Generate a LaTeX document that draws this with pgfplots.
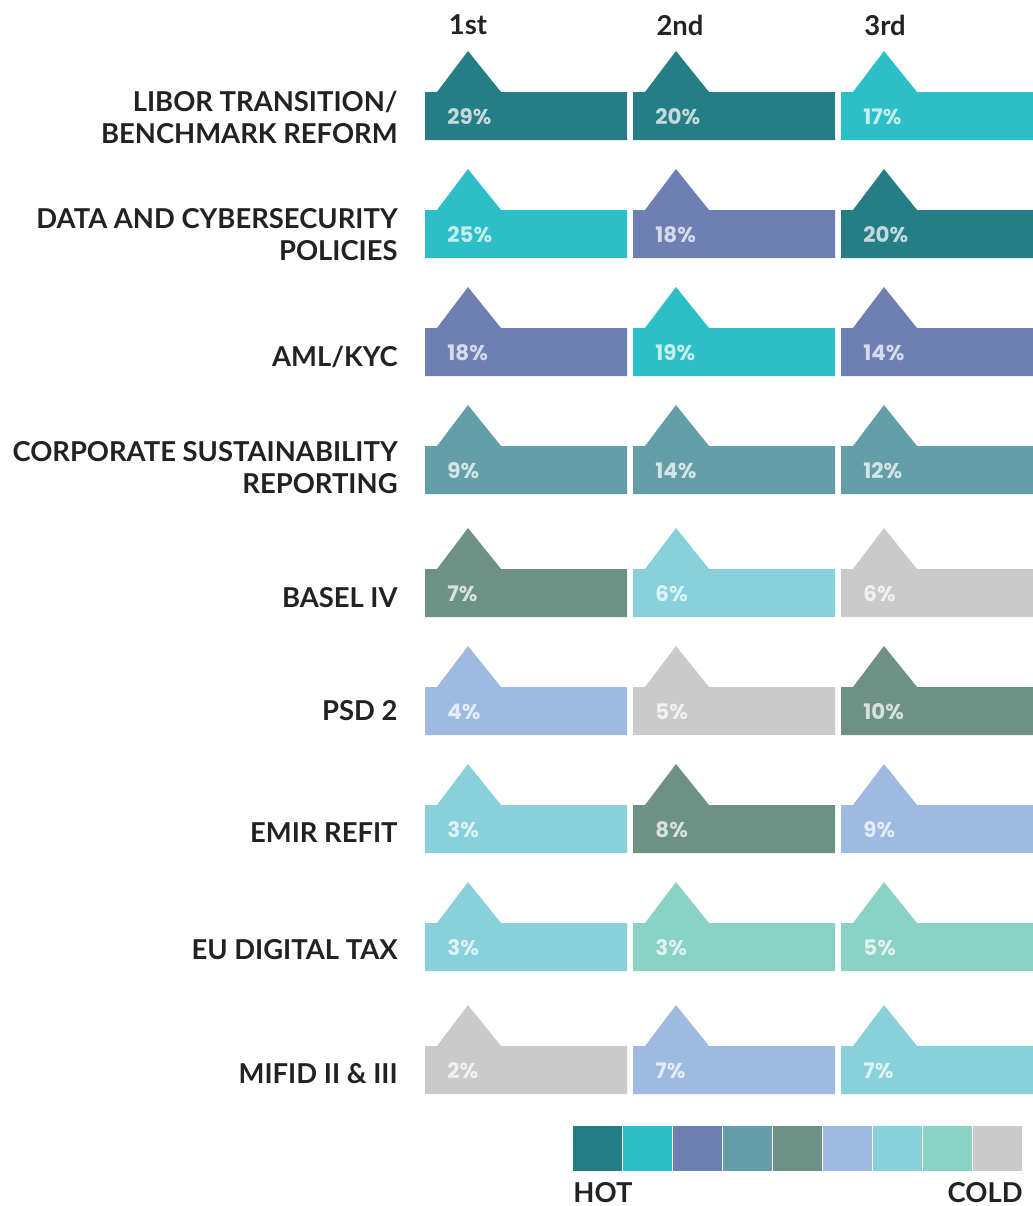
\documentclass[border=0pt]{standalone}
\usepackage{pgfplots}
\pgfplotsset{compat=1.18}
\usepackage{fontspec}
\setmainfont{Lato}
\newfontfamily\pctfont{Poppins}
\definecolor{c1}{HTML}{257D86}
\definecolor{c2}{HTML}{2DBFC8}
\definecolor{c3}{HTML}{6E7FB4}
\definecolor{c4}{HTML}{649FA9}
\definecolor{c5}{HTML}{6E9186}
\definecolor{c6}{HTML}{9EBAE0}
\definecolor{c7}{HTML}{88D1DA}
\definecolor{c8}{HTML}{8AD1C6}
\definecolor{c9}{HTML}{CBCACB}
\definecolor{lab}{HTML}{222222}
\tikzset{
  pct/.style={font=\pctfont\bfseries\fontsize{10.7}{12}\selectfont, text=white, text opacity=0.72, inner sep=0pt, anchor=west},
  lab/.style={font=\bfseries\fontsize{13.7}{16}\selectfont, text=lab, inner sep=0pt, anchor=east, align=right},
  hdr/.style={font=\bfseries\fontsize{13.7}{16}\selectfont, text=lab, inner sep=0pt},
}
% #1 column index, #2 top of rectangle (px), #3 value (%), #4 colour
\newcommand\cell[4]{%
  \pgfmathsetmacro\xL{425+208*#1}%
  \pgfmathsetmacro\xR{min(\xL+202,1033)}%
  \pgfmathsetmacro\yB{#2+48}%
  \pgfmathsetmacro\ta{\xL+12}%
  \pgfmathsetmacro\tp{\xL+43}%
  \pgfmathsetmacro\tb{\xL+76}%
  \pgfmathsetmacro\yP{#2-41}%
  \pgfmathsetmacro\xT{\xL+22}%
  \pgfmathsetmacro\yT{#2+25}%
  \edef\temp{\noexpand\addplot[fill=#4, draw=none] coordinates {(\xL,\yB) (\xL,#2) (\ta,#2) (\tp,\yP) (\tb,#2) (\xR,#2) (\xR,\yB)};
    \noexpand\node[pct] at (axis cs:\xT,\yT) {#3\noexpand\%};}%
  \temp
}
% legend square: #1 index 0..8, #2 colour
\newcommand\legsq[2]{%
  \pgfmathsetmacro\xa{573+50*#1}%
  \pgfmathsetmacro\xb{\xa+49}%
  \edef\temp{\noexpand\addplot[fill=#2, draw=none] coordinates {(\xa,1126) (\xb,1126) (\xb,1171) (\xa,1171)};}%
  \temp
}
\begin{document}
\begin{tikzpicture}
\begin{axis}[hide axis, scale only axis, width=516.5pt, height=603pt,
  xmin=0, xmax=1033, ymin=0, ymax=1206, y dir=reverse, clip=false]
% headers
\node[hdr] at (axis cs:468,25) {1st};
\node[hdr] at (axis cs:680,25) {2nd};
\node[hdr] at (axis cs:885,25) {3rd};
% row 1
\cell{0}{92}{29}{c1}\cell{1}{92}{20}{c1}\cell{2}{92}{17}{c2}
\node[lab] at (axis cs:398,117) {LIBOR TRANSITION/\\BENCHMARK REFORM};
% row 2
\cell{0}{210}{25}{c2}\cell{1}{210}{18}{c3}\cell{2}{210}{20}{c1}
\node[lab] at (axis cs:398,235) {DATA AND CYBERSECURITY\\POLICIES};
% row 3
\cell{0}{328}{18}{c3}\cell{1}{328}{19}{c2}\cell{2}{328}{14}{c3}
\node[lab] at (axis cs:398,357) {AML/KYC};
% row 4
\cell{0}{446}{9}{c4}\cell{1}{446}{14}{c4}\cell{2}{446}{12}{c4}
\node[lab] at (axis cs:398,468) {CORPORATE SUSTAINABILITY\\REPORTING};
% row 5
\cell{0}{569}{7}{c5}\cell{1}{569}{6}{c7}\cell{2}{569}{6}{c9}
\node[lab] at (axis cs:398,598) {BASEL IV};
% row 6
\cell{0}{687}{4}{c6}\cell{1}{687}{5}{c9}\cell{2}{687}{10}{c5}
\node[lab] at (axis cs:398,711) {PSD 2};
% row 7
\cell{0}{805}{3}{c7}\cell{1}{805}{8}{c5}\cell{2}{805}{9}{c6}
\node[lab] at (axis cs:398,833) {EMIR REFIT};
% row 8
\cell{0}{923}{3}{c7}\cell{1}{923}{3}{c8}\cell{2}{923}{5}{c8}
\node[lab] at (axis cs:398,950) {EU DIGITAL TAX};
% row 9
\cell{0}{1046}{2}{c9}\cell{1}{1046}{7}{c6}\cell{2}{1046}{7}{c7}
\node[lab] at (axis cs:398,1074) {MIFID II \& III};
% legend
\legsq{0}{c1}\legsq{1}{c2}\legsq{2}{c3}\legsq{3}{c4}\legsq{4}{c5}
\legsq{5}{c6}\legsq{6}{c7}\legsq{7}{c8}\legsq{8}{c9}
\node[hdr, anchor=west] at (axis cs:573,1193) {HOT};
\node[hdr, anchor=east] at (axis cs:1023,1193) {COLD};
\end{axis}
\path (current axis.south west) rectangle (current axis.north east);
\end{tikzpicture}
\end{document}
